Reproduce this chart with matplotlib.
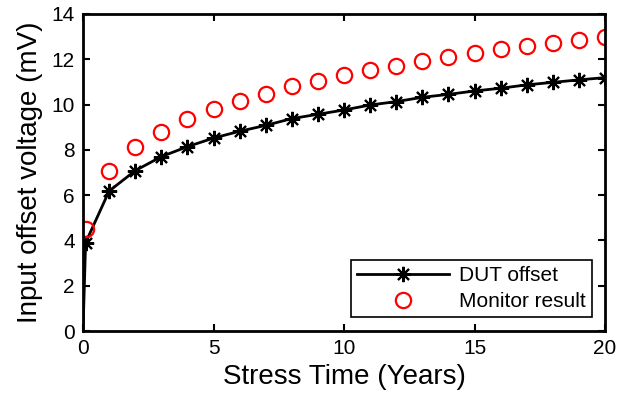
import matplotlib
matplotlib.use("Agg")
import matplotlib.pyplot as plt

# stress time (years) and offsets (mV)
years = [0, 0.1, 1, 2, 3, 4, 5, 6, 7, 8, 9, 10, 11, 12, 13, 14, 15, 16, 17, 18, 19, 20]
dut_offset = [0, 3.9, 6.18, 7.08, 7.70, 8.14, 8.52, 8.82, 9.08, 9.38, 9.57, 9.76,
              9.98, 10.13, 10.32, 10.45, 10.60, 10.72, 10.87, 10.98, 11.09, 11.19]
monitor_years = [0.1, 1, 2, 3, 4, 5, 6, 7, 8, 9, 10, 11, 12, 13, 14, 15, 16, 17, 18, 19, 20]
monitor = [4.5, 7.07, 8.11, 8.80, 9.38, 9.79, 10.16, 10.47, 10.81, 11.03, 11.29,
           11.53, 11.72, 11.93, 12.09, 12.27, 12.44, 12.58, 12.71, 12.85, 13.0]

plt.rcParams['font.family'] = ['Liberation Sans', 'DejaVu Sans']

fig = plt.figure(figsize=(6.26, 3.99), dpi=100)
ax = fig.add_axes([0.1326, 0.1704, 0.834, 0.7946])

# no marker on the (0, 0) starting point
ax.plot(years, dut_offset, color='black', lw=2, marker=(8, 2, 0), ms=11,
        mew=1.5, markevery=list(range(1, len(years))), label='DUT offset')
ax.plot(monitor_years, monitor, ls='none', marker='o', ms=11, mfc='none',
        mec='red', mew=1.6, label='Monitor result')

ax.set_xlim(0, 20)
ax.set_ylim(0, 14)
ax.set_xticks([0, 5, 10, 15, 20])
ax.set_yticks(range(0, 15, 2))
ax.tick_params(direction='in', top=True, right=True, labelsize=15, width=1.5,
               length=5, pad=6)
for s in ax.spines.values():
    s.set_linewidth(2)

ax.set_xlabel('Stress Time (Years)', fontsize=20, labelpad=4)
ax.set_ylabel('Input offset voltage (mV)', fontsize=20, labelpad=6)

leg = ax.legend(loc='lower right', fontsize=15, fancybox=False, framealpha=1,
                edgecolor='black', handlelength=4.4, handletextpad=0.5,
                borderpad=0.3, labelspacing=0.35, bbox_to_anchor=(0.995, 0.01))
leg.get_frame().set_linewidth(1.2)

fig.savefig('out.png', dpi=100)
